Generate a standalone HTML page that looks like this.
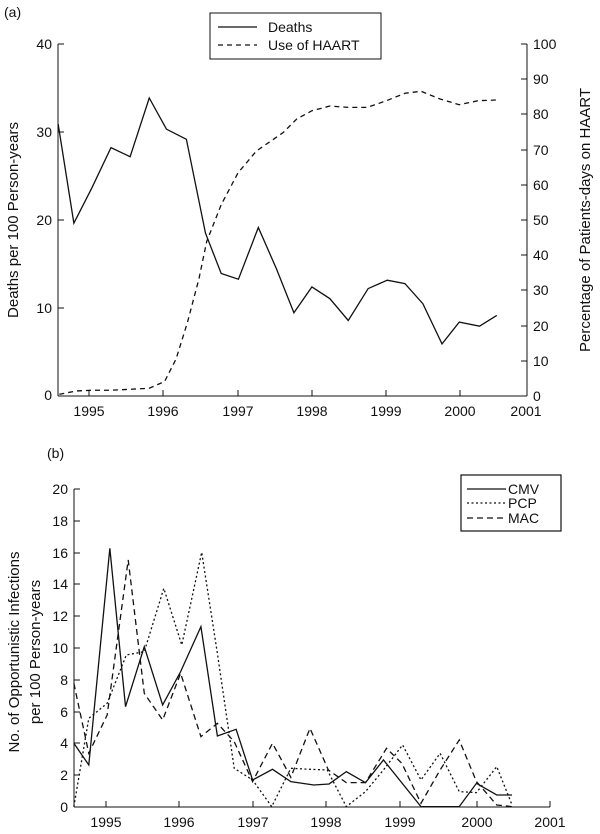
<!DOCTYPE html>
<html><head><meta charset="utf-8"><style>
body{margin:0;background:#fff;}
svg{display:block;font-family:"Liberation Sans",Arial,sans-serif;}
text{fill:#111;}
.ln{fill:none;stroke:#111;stroke-width:1.3;vector-effect:non-scaling-stroke;}
</style></head><body>
<svg width="600" height="834" viewBox="0 0 600 834" xmlns="http://www.w3.org/2000/svg">
<!-- Panel (a) -->
<text x="4" y="17" font-size="14">(a)</text>
<g stroke="#111" stroke-width="1" fill="none">
<line x1="58" y1="44" x2="58" y2="396"/>
<line x1="58" y1="396" x2="527" y2="396"/>
<line x1="527" y1="44" x2="527" y2="396"/>
<line x1="58" y1="44" x2="64" y2="44"/><line x1="58" y1="132" x2="64" y2="132"/><line x1="58" y1="220" x2="64" y2="220"/><line x1="58" y1="308" x2="64" y2="308"/>
<line x1="521" y1="44" x2="527" y2="44"/><line x1="521" y1="79" x2="527" y2="79"/><line x1="521" y1="114" x2="527" y2="114"/><line x1="521" y1="150" x2="527" y2="150"/><line x1="521" y1="185" x2="527" y2="185"/><line x1="521" y1="220" x2="527" y2="220"/><line x1="521" y1="255" x2="527" y2="255"/><line x1="521" y1="290" x2="527" y2="290"/><line x1="521" y1="326" x2="527" y2="326"/><line x1="521" y1="361" x2="527" y2="361"/>
<line x1="89" y1="390" x2="89" y2="396"/><line x1="163" y1="390" x2="163" y2="396"/><line x1="238" y1="390" x2="238" y2="396"/><line x1="312" y1="390" x2="312" y2="396"/><line x1="386" y1="390" x2="386" y2="396"/><line x1="460" y1="390" x2="460" y2="396"/>
</g>
<g font-size="14" text-anchor="end">
<text x="52" y="49">40</text><text x="52" y="137">30</text><text x="52" y="225">20</text><text x="52" y="313">10</text><text x="52" y="400">0</text>
</g>
<g font-size="14" text-anchor="start">
<text x="533" y="49">100</text><text x="533" y="84">90</text><text x="533" y="119">80</text><text x="533" y="155">70</text><text x="533" y="190">60</text><text x="533" y="225">50</text><text x="533" y="260">40</text><text x="533" y="295">30</text><text x="533" y="331">20</text><text x="533" y="366">10</text><text x="533" y="401">0</text>
</g>
<g font-size="14" text-anchor="middle">
<text x="89" y="416">1995</text><text x="163" y="416">1996</text><text x="238" y="416">1997</text><text x="312" y="416">1998</text><text x="386" y="416">1999</text><text x="460" y="416">2000</text><text x="526" y="416">2001</text>
</g>
<text font-size="15" text-anchor="middle" transform="translate(18,220) rotate(-90)">Deaths per 100 Person-years</text>
<text font-size="15" text-anchor="middle" transform="translate(590,220) rotate(-90)">Percentage of Patients-days on HAART</text>
<g transform="scale(0.38270,0.33557)">
<polyline class="ln" points="152,370 193,665 240,560 290,440 340,467 390,292 435,385 487,415 537,695 578,815 623,832 675,678 722,800 768,932 815,855 862,890 910,955 962,860 1012,835 1058,845 1105,905 1155,1025 1200,960 1253,972 1298,940"/>
<polyline class="ln" stroke-dasharray="5,4" points="155,1175 200,1165 240,1163 290,1163 340,1160 390,1157 430,1137 460,1070 490,960 520,830 540,720 578,610 622,515 670,450 740,395 775,355 815,330 862,316 910,320 960,320 1010,300 1058,278 1100,272 1150,295 1200,312 1250,300 1298,298"/>
</g>
<rect x="210" y="13" width="171" height="46" fill="#fff" stroke="#111" stroke-width="1"/>
<line x1="218" y1="27" x2="257" y2="27" stroke="#111" stroke-width="1.3"/>
<line x1="218" y1="45" x2="257" y2="45" stroke="#111" stroke-width="1.3" stroke-dasharray="5,4"/>
<text x="268" y="32" font-size="14">Deaths</text>
<text x="268" y="50" font-size="14">Use of HAART</text>

<!-- Panel (b) -->
<text x="47" y="458" font-size="14">(b)</text>
<g stroke="#111" stroke-width="1" fill="none">
<line x1="74" y1="489" x2="74" y2="807"/>
<line x1="74" y1="807" x2="550" y2="807"/>
<line x1="74" y1="489" x2="80" y2="489"/><line x1="74" y1="521" x2="80" y2="521"/><line x1="74" y1="553" x2="80" y2="553"/><line x1="74" y1="584" x2="80" y2="584"/><line x1="74" y1="616" x2="80" y2="616"/><line x1="74" y1="648" x2="80" y2="648"/><line x1="74" y1="680" x2="80" y2="680"/><line x1="74" y1="712" x2="80" y2="712"/><line x1="74" y1="743" x2="80" y2="743"/><line x1="74" y1="775" x2="80" y2="775"/>
<line x1="106" y1="801" x2="106" y2="807"/><line x1="179" y1="801" x2="179" y2="807"/><line x1="253" y1="801" x2="253" y2="807"/><line x1="326" y1="801" x2="326" y2="807"/><line x1="400" y1="801" x2="400" y2="807"/><line x1="477" y1="801" x2="477" y2="807"/><line x1="550" y1="801" x2="550" y2="807"/>
</g>
<g font-size="14" text-anchor="end">
<text x="68" y="494">20</text><text x="68" y="526">18</text><text x="68" y="558">16</text><text x="68" y="589">14</text><text x="68" y="621">12</text><text x="68" y="653">10</text><text x="68" y="685">8</text><text x="68" y="717">6</text><text x="68" y="748">4</text><text x="68" y="780">2</text><text x="68" y="812">0</text>
</g>
<g font-size="14" text-anchor="middle">
<text x="106" y="827">1995</text><text x="179" y="827">1996</text><text x="253" y="827">1997</text><text x="326" y="827">1998</text><text x="400" y="827">1999</text><text x="477" y="827">2000</text><text x="550" y="827">2001</text>
</g>
<text font-size="15" text-anchor="middle" transform="translate(19,652) rotate(-90)">No. of Opportunistic Infections</text>
<text font-size="15" text-anchor="middle" transform="translate(40,652) rotate(-90)">per 100 Person-years</text>
<g transform="translate(0,420) scale(0.38270,0.3333)">
<polyline class="ln" points="193,970 232,1035 287,385 328,860 377,680 425,855 472,755 525,620 568,948 617,928 660,1080 712,1048 760,1085 820,1095 860,1092 905,1055 955,1088 1002,1020 1100,1160 1200,1160 1245,1090 1298,1125 1338,1125"/>
<polyline class="ln" stroke-dasharray="2,2.5" points="193,1160 232,895 280,850 330,705 377,695 428,505 475,675 527,397 568,700 612,1045 660,1080 710,1160 760,1045 810,1048 855,1050 905,1160 955,1115 1002,1050 1052,975 1100,1080 1150,1000 1200,1115 1245,1118 1298,1040 1338,1155"/>
<polyline class="ln" stroke-dasharray="6,4" points="193,790 232,1000 280,885 335,420 377,820 425,900 472,760 525,950 568,910 612,965 660,1085 712,970 760,1072 810,925 858,1050 905,1088 955,1088 1010,985 1050,1030 1100,1150 1150,1050 1200,960 1245,1085 1298,1155 1338,1160"/>
</g>
<rect x="461" y="475" width="100" height="56" fill="#fff" stroke="#111" stroke-width="1.2"/>
<line x1="467" y1="489" x2="506" y2="489" stroke="#111" stroke-width="1.3"/>
<line x1="467" y1="503" x2="506" y2="503" stroke="#111" stroke-width="1.3" stroke-dasharray="2,2.5"/>
<line x1="467" y1="518" x2="506" y2="518" stroke="#111" stroke-width="1.3" stroke-dasharray="6,4"/>
<text x="508" y="494" font-size="14">CMV</text>
<text x="508" y="508" font-size="14">PCP</text>
<text x="508" y="523" font-size="14">MAC</text>
</svg>
</body></html>
